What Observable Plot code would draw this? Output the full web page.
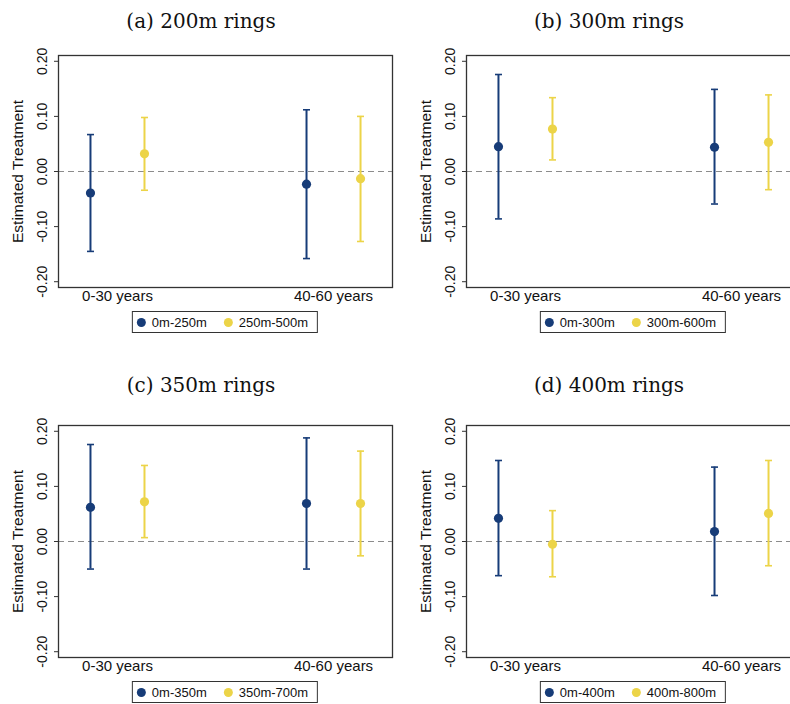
<!DOCTYPE html>
<html>
<head>
<meta charset="utf-8">
<script src="https://cdn.jsdelivr.net/npm/d3@7"></script>
<script src="https://cdn.jsdelivr.net/npm/@observablehq/plot@0.6"></script>
<style>
  html, body { margin: 0; padding: 0; background: #fff; }
  #root { position: relative; width: 790px; height: 704px; overflow: hidden; background: #fff; }
  .title { position: absolute; font-family: "DejaVu Serif", serif; font-size: 20px; line-height: 20px;
           transform: translateX(-50%); white-space: nowrap; color: #111; }
  .panel { position: absolute; width: 395px; height: 265px; }
  .panel svg { max-width: none !important; }
  .legend { position: absolute; transform: translateX(-50%); height: 20px; border: 1px solid #333;
            display: flex; align-items: center; white-space: nowrap; box-sizing: content-box;
            font-family: "Liberation Sans", Arial, sans-serif; font-size: 13px; color: #111; padding: 0 9px 0 4px; }
  .legend .sw { width: 9px; height: 9px; border-radius: 50%; display: inline-block; margin-right: 6px; }
  .legend .item { display: flex; align-items: center; }
  .legend .item + .item { margin-left: 17px; }
</style>
</head>
<body>
<div id="root"></div>
<script>
// ---- data ----
const periods = ["0-30 years", "40-60 years"];
const panelTitles = ["(a) 200m rings", "(b) 300m rings", "(c) 350m rings", "(d) 400m rings"];
const innerRings = ["0m-250m", "0m-300m", "0m-350m", "0m-400m"];
const outerRings = ["250m-500m", "300m-600m", "350m-700m", "400m-800m"];
const yTicks = [-0.2, -0.1, 0, 0.1, 0.2];

// estimates per panel: [0-30 years, 40-60 years]
const innerEst = [[-0.039, -0.023], [0.045, 0.044], [0.062, 0.069], [0.042, 0.018]];
const innerLo  = [[-0.145, -0.158], [-0.086, -0.059], [-0.050, -0.050], [-0.062, -0.098]];
const innerHi  = [[0.067, 0.112], [0.176, 0.149], [0.176, 0.188], [0.147, 0.135]];
const outerEst = [[0.032, -0.013], [0.077, 0.053], [0.072, 0.069], [-0.005, 0.051]];
const outerLo  = [[-0.034, -0.127], [0.021, -0.033], [0.007, -0.026], [-0.064, -0.044]];
const outerHi  = [[0.098, 0.100], [0.134, 0.139], [0.138, 0.164], [0.056, 0.147]];

// ---- style ----
const NAVY = "#173c78";
const GOLD = "#ecd448";
const OFFSET = 0.125;

const capSymbol = {
  draw(context, size) {
    const r = Math.sqrt(size / Math.PI);
    context.moveTo(-r, 0);
    context.lineTo(r, 0);
  }
};

const root = document.getElementById("root");

const layout = [
  {left: 0, top: 40, titleX: 201, titleTop: 11},
  {left: 408, top: 40, titleX: 609, titleTop: 11},
  {left: 0, top: 410, titleX: 201, titleTop: 375},
  {left: 408, top: 410, titleX: 609, titleTop: 375}
];

panelTitles.forEach((t, i) => {
  const L = layout[i];
  const rows = [];
  periods.forEach((p, j) => {
    rows.push({pos: j - OFFSET, grp: "inner", est: innerEst[i][j], lo: innerLo[i][j], hi: innerHi[i][j]});
    rows.push({pos: j + OFFSET, grp: "outer", est: outerEst[i][j], lo: outerLo[i][j], hi: outerHi[i][j]});
  });

  const chart = Plot.plot({
    width: 395,
    height: 265,
    marginLeft: 58,
    marginRight: 3,
    marginTop: 15,
    marginBottom: 18,
    style: {fontFamily: "'Liberation Sans', Arial, sans-serif", fontSize: "15px", color: "#111",
            background: "transparent", overflow: "visible", maxWidth: "none"},
    x: {domain: [-0.273, 1.273], axis: null},
    y: {domain: [-0.2105, 0.2105], axis: null},
    color: {domain: ["inner", "outer"], range: [NAVY, GOLD]},
    marks: [
      Plot.ruleY([0], {stroke: "#8c8c8c", strokeWidth: 1, strokeDasharray: "6,4"}),
      Plot.axisY({ticks: yTicks, tickSize: 4, tickFormat: () => "", label: null, stroke: "#333"}),
      Plot.text(yTicks, {frameAnchor: "left", y: d => d, text: d => d.toFixed(2), rotate: -90,
        textAnchor: "middle", lineAnchor: "middle", dx: -16, fontSize: 14, fill: "#111"}),
      Plot.text(["Estimated Treatment"], {frameAnchor: "left", rotate: -90, textAnchor: "middle",
        lineAnchor: "middle", dx: -40, fontSize: 15.5, fill: "#111"}),
      Plot.axisX({ticks: [0, 1], tickFormat: k => periods[k], tickSize: 0, tickPadding: 3, label: null, fontSize: 15, fill: "#111"}),
      Plot.ruleX(rows, {x: "pos", y1: "lo", y2: "hi", stroke: "grp", strokeWidth: 2}),
      Plot.dot(rows, {x: "pos", y: "hi", symbol: capSymbol, r: 3.5, stroke: "grp", strokeWidth: 1.6}),
      Plot.dot(rows, {x: "pos", y: "lo", symbol: capSymbol, r: 3.5, stroke: "grp", strokeWidth: 1.6}),
      Plot.dot(rows, {x: "pos", y: "est", fill: "grp", r: 4.6}),
      Plot.frame({stroke: "#333", strokeWidth: 1.3})
    ]
  });

  const wrap = document.createElement("div");
  wrap.className = "panel";
  wrap.style.left = L.left + "px";
  wrap.style.top = L.top + "px";
  wrap.appendChild(chart);
  root.appendChild(wrap);

  const title = document.createElement("div");
  title.className = "title";
  title.textContent = t;
  title.style.left = L.titleX + "px";
  title.style.top = L.titleTop + "px";
  root.appendChild(title);

  const legend = document.createElement("div");
  legend.className = "legend";
  legend.style.left = (L.left + 58 + 167) + "px";
  legend.style.top = (L.top + 271) + "px";
  legend.innerHTML =
    `<span class="item"><span class="sw" style="background:${NAVY}"></span>${innerRings[i]}</span>` +
    `<span class="item"><span class="sw" style="background:${GOLD}"></span>${outerRings[i]}</span>`;
  root.appendChild(legend);
});
</script>
</body>
</html>
